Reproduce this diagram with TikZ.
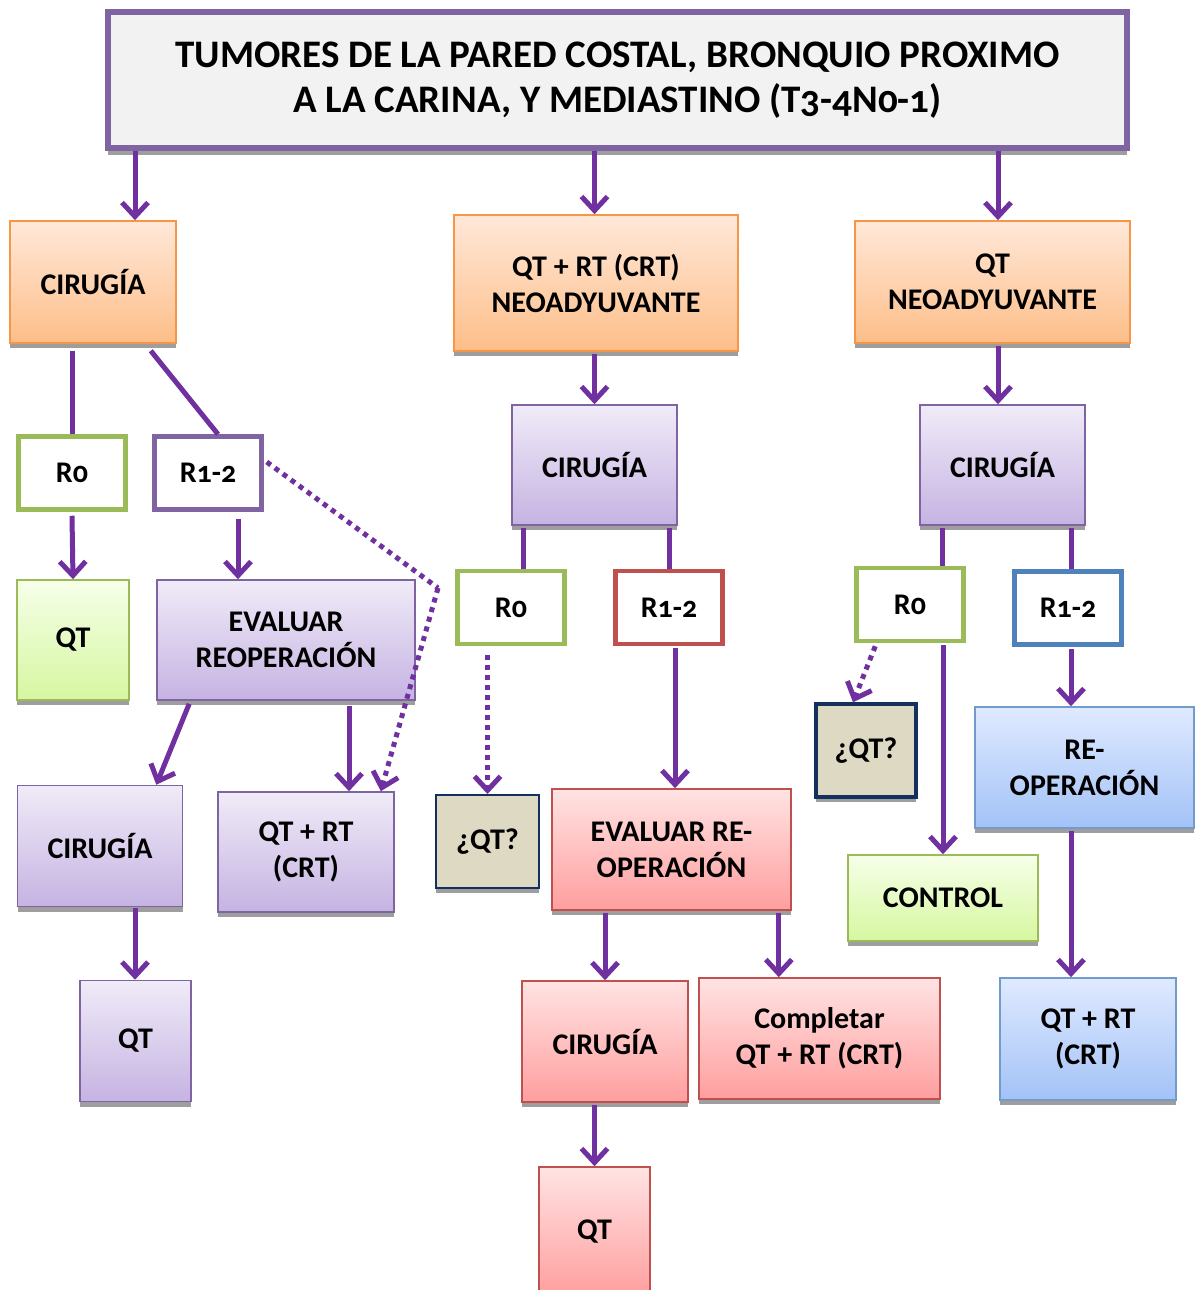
\documentclass[tikz,border=0pt]{standalone}
\usepackage{fontspec}
\setmainfont{Carlito}[Numbers=OldStyle]
\usetikzlibrary{arrows.meta,shadows,calc}
\definecolor{arrp}{HTML}{7030A0}
\definecolor{purb}{HTML}{8064A2}
\definecolor{purt}{HTML}{F0EBF8}
\definecolor{purbot}{HTML}{C5B3E2}
\definecolor{orb}{HTML}{F79646}
\definecolor{ort}{HTML}{FFE8D9}
\definecolor{orbot}{HTML}{FDBE88}
\definecolor{grb}{HTML}{9BBB59}
\definecolor{grt}{HTML}{F6FFE9}
\definecolor{grbot}{HTML}{D6F7A0}
\definecolor{redb}{HTML}{C0504D}
\definecolor{redt}{HTML}{FFE3E3}
\definecolor{redbot}{HTML}{FF9E9E}
\definecolor{blb}{HTML}{4F81BD}
\definecolor{blt}{HTML}{DFEAFF}
\definecolor{blbot}{HTML}{A3C2F7}
\definecolor{tan}{HTML}{DDD9C3}
\definecolor{navy}{HTML}{14305E}
\definecolor{ttl}{HTML}{F2F2F2}
\newcommand\lblfont{\bfseries\fontsize{30}{36}\selectfont}
\newcommand\ttlfont{\bfseries\fontsize{39}{45}\selectfont}
\tikzset{
  sz/.style 2 args={minimum width=#1pt,minimum height=#2pt},
  shd/.style={drop shadow={shadow xshift=0pt,shadow yshift=-5pt,fill=black!38,opacity=1}},
  box/.style={draw,line width=1.6pt,align=center,font=\lblfont,inner sep=2pt,shd},
  obox/.style={box,draw=orb,top color=ort,bottom color=orbot},
  pbox/.style={box,draw=purb,top color=purt,bottom color=purbot},
  gbox/.style={box,draw=grb,top color=grt,bottom color=grbot},
  rbox/.style={box,draw=redb,top color=redt,bottom color=redbot},
  bbox/.style={box,draw=blb!80,top color=blt,bottom color=blbot},
  rres/.style={draw=#1,line width=4.5pt,fill=white,align=center,font=\lblfont,sz={107}{73}},
  qbox/.style={box,draw=navy,line width=2.5pt,fill=tan},
  ttlbox/.style={draw=purb,line width=6pt,fill=ttl,align=center,font=\ttlfont,
    drop shadow={shadow xshift=0pt,shadow yshift=-7pt,fill=black!38,opacity=1}},
  ln/.style={draw=arrp,line width=5pt},
  arr/.style={ln,-{Straight Barb[length=14pt,width=26pt,line width=5pt]}},
  dotarr/.style={arr,dash pattern=on 5pt off 5pt},
  dotln/.style={ln,dash pattern=on 5pt off 5pt}
}
\begin{document}
\begin{tikzpicture}[x=1pt,y=-1pt]
\clip (0,0) rectangle (1195,1290);
\useasboundingbox (0,0) rectangle (1195,1290);
\fill[white] (0,0) rectangle (1195,1290);

% title
\node[ttlbox,sz={1019}{136}] (t) at (617.5,80) {TUMORES DE LA PARED COSTAL, BRONQUIO PROXIMO\\A LA CARINA, Y MEDIASTINO (T3-4N0-1)};

% row 1
\node[obox,sz={166}{122}] (c1) at (93,282) {CIRUGÍA};
\node[obox,sz={284}{136}] (n2) at (596,283) {QT + RT (CRT)\\NEOADYUVANTE};
\node[obox,sz={275}{122}] (n3) at (992.5,282) {QT\\NEOADYUVANTE};

% left column
\node[rres=grb] (r0a) at (72,473) {R0};
\node[rres=purb] (r12a) at (208,473) {R1-2};
\node[gbox,sz={112}{120}] (qta) at (73,640) {QT};
\node[pbox,sz={258}{120}] (eva) at (286,640) {EVALUAR\\REOPERACIÓN};
\node[pbox,sz={165}{121}] (cira) at (100,846) {CIRUGÍA};
\node[pbox,sz={176}{120}] (qtrta) at (306,852) {QT + RT\\(CRT)};
\node[pbox,sz={111}{121}] (qtb) at (135.5,1041) {QT};

% middle column
\node[pbox,sz={165}{120}] (cirm) at (594.5,465) {CIRUGÍA};
\node[rres=grb] (r0m) at (511,607.5) {R0};
\node[rres=redb] (r12m) at (669,607.5) {R1-2};
\node[qbox,line width=2pt,sz={103}{93}] (qqm) at (487.5,841.5) {¿QT?};
\node[rbox,sz={239}{121}] (evm) at (671.5,849.5) {EVALUAR RE-\\OPERACIÓN};
\node[rbox,sz={166}{121}] (cirm2) at (605,1041.5) {CIRUGÍA};
\node[rbox,sz={241}{121}] (compm) at (819.5,1038.5) {Completar\\QT + RT (CRT)};
\node[rbox,sz={111}{130}] (qtm) at (594.5,1232) {QT};

% right column
\node[pbox,sz={165}{120}] (cirr) at (1002.5,465) {CIRUGÍA};
\node[rres=grb] (r0r) at (910,604.5) {R0};
\node[rres=blb] (r12r) at (1068,608) {R1-2};
\node[qbox,line width=3.5pt,sz={100}{93}] (qqr) at (866,750.5) {¿QT?};
\node[gbox,sz={190}{86}] (ctr) at (943,898) {CONTROL};
\node[bbox,sz={219}{121}] (reop) at (1084.5,767.5) {RE-\\OPERACIÓN};
\node[bbox,sz={176}{122}] (qtrtr) at (1088,1039) {QT + RT\\(CRT)};

% helper coordinates
\coordinate (ta) at ([xshift=42pt]c1.north);
\coordinate (tc) at ([xshift=5.5pt]n3.north);
\coordinate (c1r) at ([xshift=-26pt,yshift=-7pt]c1.south east);
\coordinate (r12in) at ([xshift=10pt]r12a.north);
\coordinate (r12out) at ([xshift=30pt,yshift=-7pt]r12a.south);
\coordinate (evin) at (r12out |- eva.north);
\coordinate (r12side) at ([xshift=3pt,yshift=11pt]r12a.east);
\coordinate (bend) at (438,588);
\coordinate (qtrtne) at ([xshift=-14pt]qtrta.north east);
\coordinate (evl) at ([xshift=33pt,yshift=-3pt]eva.south west);
\coordinate (ciraIn) at ([xshift=-27pt]cira.north east);
\coordinate (evr) at ([xshift=63pt,yshift=-5pt]eva.south);
\coordinate (ciraOut) at ([xshift=35pt,yshift=-1pt]cira.south);
\coordinate (cmo) at ([xshift=-71.5pt,yshift=-2pt]cirm.south);
\coordinate (r0mo) at ([yshift=-9pt]r0m.south -| qqm);
\coordinate (r12mo) at ([xshift=6pt,yshift=-2pt]r12m.south);
\coordinate (evmr) at ([xshift=-13pt,yshift=-2pt]evm.south east);
\coordinate (evml) at ([yshift=-2pt]evm.south -| cirm2);
\coordinate (cro) at ([xshift=-60.5pt,yshift=-2pt]cirr.south);
\coordinate (r0rd) at ([xshift=21pt,yshift=-3pt]r0r.south west);
\coordinate (qqrin) at ([xshift=-13pt]qqr.north);
\coordinate (r0ro) at ([yshift=-2pt]r0r.south -| ctr);
\coordinate (r12ro) at ([xshift=3pt,yshift=-2pt]r12r.south);

% connectors from title
\draw[arr] (t.south -| ta) -- (ta);
\draw[arr] (t.south -| cirm) -- (cirm |- n2.north);
\draw[arr] (t.south -| tc) -- (tc);

% left column connectors
\draw[ln] ([yshift=-7pt]c1.south -| r0a) -- (r0a.north);
\draw[ln] (c1r) -- (r12in);
\draw[arr] ([yshift=-4pt]r0a.south) -- (qta.north);
\draw[arr] (r12out) -- (evin);
\draw[dotln] (r12side) -- (bend);
\draw[dotarr] (bend) -- (qtrtne);
\draw[arr] (evl) -- (ciraIn);
\draw[arr] (evr) -- (evr |- qtrta.north);
\draw[arr] (ciraOut) -- (ciraOut |- qtb.north);

% middle column connectors
\draw[arr] ([yshift=-2pt]n2.south -| cirm) -- (cirm.north);
\draw[ln] (cmo) -- (cmo |- r0m.north);
\draw[ln] ([yshift=-2pt]cirm.south -| r12m) -- (r12m.north);
\draw[dotarr] (r0mo) -- (qqm.north);
\draw[arr] (r12mo) -- (r12mo |- evm.north);
\draw[arr] (evml) -- (cirm2.north);
\draw[arr] (evmr) -- (evmr |- compm.north);
\draw[arr] ([yshift=-2pt]cirm2.south -| qtm) -- (qtm.north);

% right column connectors
\draw[arr] ([yshift=-2pt]n3.south -| tc) -- (tc |- cirr.north);
\draw[ln] (cro) -- (cro |- r0r.north);
\draw[ln] ([yshift=-2pt]cirr.south -| r12ro) -- (r12ro |- r12r.north);
\draw[dotarr] (r0rd) -- (qqrin);
\draw[arr] (r0ro) -- (ctr.north);
\draw[arr] (r12ro) -- (r12ro |- reop.north);
\draw[arr] ([yshift=-2pt]reop.south -| r12ro) -- (r12ro |- qtrtr.north);
\end{tikzpicture}
\end{document}
